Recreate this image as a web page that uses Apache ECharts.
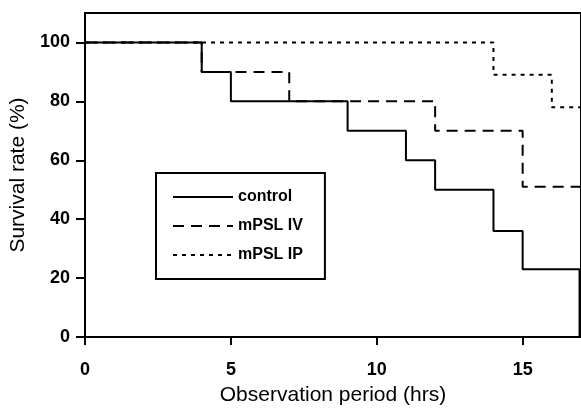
<!DOCTYPE html>
<html>
<head>
<meta charset="utf-8">
<script src="https://cdn.jsdelivr.net/npm/echarts@6/dist/echarts.min.js"></script>
<style>
html,body{margin:0;padding:0;background:#fff;}
#chart{width:581px;height:411px;}
</style>
</head>
<body>
<div id="chart"></div>
<script>
// Kaplan-Meier step data: [time (hrs), survival (%)]
var controlData = [[0,100],[4,90],[5,80],[9,70],[11,60],[12,50],[14,36],[15,23],[16.95,0]];
var ivData      = [[0,100],[4,90],[7,80],[12,70],[15,51],[17,51]];
var ipData      = [[0,100],[14,89],[16,78],[17,78]];
var seriesNames = ['control','mPSL IV','mPSL IP'];
var xTicks = [0,5,10,15];
var yTicks = [0,20,40,60,80,100];

var chart = echarts.init(document.getElementById('chart'), null, {renderer:'canvas'});
var font = 'Liberation Sans, Arial, sans-serif';
chart.setOption({
  animation:false,
  backgroundColor:'#fff',
  grid:{left:85, top:13, width:499, bottom:71, show:true, borderColor:'#000', borderWidth:2},
  xAxis:{
    type:'value', min:0, max:17,
    name:'Observation period (hrs)', nameLocation:'middle', nameGap:48,
    nameTextStyle:{fontFamily:font, fontSize:21, color:'#000'},
    axisLine:{lineStyle:{color:'#000', width:2}},
    axisTick:{customValues:xTicks, inside:false, length:8, lineStyle:{width:2, color:'#000'}},
    axisLabel:{customValues:xTicks, fontFamily:font, fontSize:18, fontWeight:'bold', color:'#000', margin:24},
    splitLine:{show:false}
  },
  yAxis:{
    type:'value', min:0, max:110,
    name:'Survival rate (%)', nameLocation:'middle', nameGap:54,
    nameTextStyle:{fontFamily:font, fontSize:21, color:'#000'},
    axisLine:{lineStyle:{color:'#000', width:2}},
    axisTick:{customValues:yTicks, inside:false, length:9, lineStyle:{width:2, color:'#000'}},
    axisLabel:{customValues:yTicks, fontFamily:font, fontSize:18, fontWeight:'bold', color:'#000', margin:15},
    splitLine:{show:false}
  },
  legend:{
    data:seriesNames,
    orient:'vertical', left:156, top:173,
    padding:[16,22,16,16], itemGap:13,
    itemWidth:60, itemHeight:15,
    itemStyle:{opacity:0},
    borderColor:'#000', borderWidth:2, backgroundColor:'#fff',
    textStyle:{fontFamily:font, fontSize:16, fontWeight:'bold', color:'#000'}
  },
  series:[
    {name:seriesNames[2], type:'line', step:'end', data:ipData, symbol:'none', z:2,
     lineStyle:{color:'#000', width:2, type:[4,5]}, itemStyle:{color:'#000'}},
    {name:seriesNames[1], type:'line', step:'end', data:ivData, symbol:'none', z:3,
     lineStyle:{color:'#000', width:2, type:[11,7]}, itemStyle:{color:'#000'}},
    {name:seriesNames[0], type:'line', step:'end', data:controlData, symbol:'none', z:4,
     lineStyle:{color:'#000', width:2}, itemStyle:{color:'#000'}}
  ]
});
</script>
</body>
</html>
